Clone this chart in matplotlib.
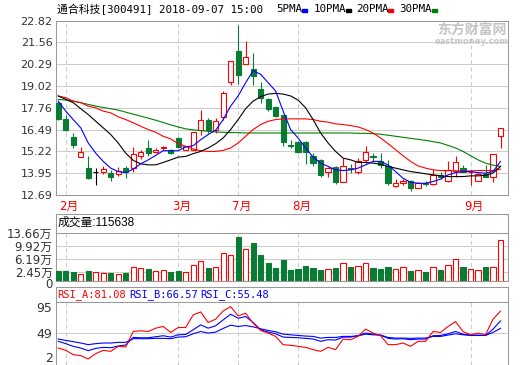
import matplotlib
matplotlib.use("Agg")
import matplotlib.pyplot as plt
from matplotlib.patches import Rectangle
from matplotlib.transforms import ScaledTranslation
import numpy as np

W, H = 520, 365

# daily candles, 2018-01-31 .. 2018-09-07 (trading suspended Mar..Jul)
opens = [18.01, 17.13, 16.06, 14.89, 14.27, 14.01, 14.01, 13.94, 13.92, 14.27,
         14.25, 14.93, 15.44, 15.18, 15.40, 15.32, 16.02, 15.32, 15.30, 16.49,
         17.03, 16.49, 17.21, 19.25, 21.05, 20.27, 20.03, 18.86, 18.24, 17.81,
         17.36, 15.57, 15.79, 15.79, 14.97, 14.73, 14.00, 14.33, 13.47, 14.23,
         14.00, 14.73, 14.93, 14.64, 14.35, 13.22, 13.41, 13.49, 13.08, 13.39,
         13.33, 13.88, 13.53, 14.11, 14.25, 14.00, 13.53, 13.90, 13.72, 16.10]
highs = [18.14, 17.33, 16.29, 15.46, 14.97, 14.27, 14.38, 14.15, 14.33, 14.38,
         15.46, 15.32, 15.90, 15.40, 15.55, 15.36, 16.05, 15.55, 16.35, 17.62,
         17.15, 17.15, 18.73, 20.49, 22.54, 21.63, 20.91, 19.27, 18.30, 17.85,
         17.36, 15.90, 15.85, 15.85, 15.12, 14.80, 14.30, 14.38, 14.83, 14.48,
         14.85, 15.51, 15.12, 15.12, 14.70, 13.60, 13.60, 13.57, 13.47, 13.49,
         14.19, 14.00, 14.64, 14.93, 14.44, 14.15, 13.96, 14.44, 15.09, 16.60]
lows = [17.05, 16.42, 15.40, 14.89, 13.62, 13.27, 13.90, 13.53, 13.78, 13.66,
        14.00, 14.77, 14.97, 15.12, 15.32, 15.05, 15.45, 15.30, 15.28, 16.20,
        16.29, 16.29, 17.07, 19.08, 19.12, 20.27, 19.10, 18.05, 17.55, 17.20,
        15.51, 15.42, 15.12, 14.50, 14.40, 13.76, 13.76, 13.30, 13.43, 13.96,
        13.92, 14.54, 14.64, 14.25, 13.27, 13.18, 13.27, 12.94, 13.08, 13.22,
        13.27, 13.61, 13.47, 13.72, 14.01, 13.27, 13.53, 13.72, 13.47, 15.42]
closes = [17.11, 16.45, 15.57, 15.18, 13.70, 14.01, 14.19, 13.76, 14.07, 14.05,
          15.07, 15.18, 15.12, 15.32, 15.48, 15.10, 15.49, 15.51, 16.33, 17.07,
          16.49, 16.96, 18.63, 20.49, 19.66, 20.68, 19.60, 18.32, 17.66, 17.27,
          15.75, 15.55, 15.18, 15.18, 14.54, 13.86, 14.25, 13.47, 14.35, 14.19,
          14.66, 15.20, 14.87, 14.44, 13.37, 13.39, 13.49, 13.08, 13.37, 13.35,
          13.86, 13.76, 14.15, 14.58, 14.05, 14.03, 13.92, 13.72, 15.09, 16.60]

ma5 = [18.14, 17.56, 17.07, 16.59, 15.71, 15.12, 14.64, 14.25, 14.05, 13.99,
       14.19, 14.50, 14.73, 14.99, 15.26, 15.26, 15.26, 15.48, 15.55, 15.90,
       16.20, 16.45, 17.07, 17.85, 18.44, 19.21, 19.90, 19.70, 19.21, 18.73,
       17.56, 16.49, 16.00, 15.42, 14.89, 14.54, 14.35, 14.15, 14.11, 14.15,
       14.25, 14.44, 14.64, 14.64, 14.44, 14.05, 13.66, 13.43, 13.37, 13.37,
       13.47, 13.61, 13.86, 13.99, 14.05, 14.05, 13.99, 13.96, 14.05, 14.64]
ma10 = [18.44, 18.24, 18.05, 17.70, 17.36, 16.97, 16.59, 16.20, 15.71, 15.12,
        14.70, 14.50, 14.44, 14.44, 14.58, 14.73, 14.89, 14.93, 15.09, 15.22,
        15.42, 15.67, 16.00, 16.49, 17.07, 17.70, 18.14, 18.40, 18.55, 18.59,
        18.55, 18.44, 18.20, 17.75, 17.07, 16.29, 15.71, 15.22, 14.83, 14.73,
        14.58, 14.58, 14.54, 14.48, 14.35, 14.25, 14.15, 14.05, 13.99, 13.92,
        13.86, 13.80, 13.76, 13.76, 13.76, 13.80, 13.80, 13.84, 13.96, 14.35]
ma20 = [18.44, 18.34, 18.14, 18.05, 17.85, 17.75, 17.56, 17.46, 17.23, 17.07,
        16.88, 16.68, 16.49, 16.33, 16.10, 15.95, 15.67, 15.51, 15.36, 15.26,
        15.22, 15.22, 15.28, 15.42, 15.71, 16.10, 16.49, 16.78, 16.97, 17.07,
        17.11, 17.11, 17.11, 17.11, 17.07, 16.97, 16.92, 16.82, 16.78, 16.72,
        16.64, 16.49, 16.29, 16.00, 15.67, 15.32, 14.97, 14.64, 14.38, 14.25,
        14.15, 14.11, 14.11, 14.09, 14.09, 14.09, 14.11, 14.11, 14.11, 14.19]
ma30 = [18.24, 18.20, 18.14, 18.05, 17.95, 17.85, 17.77, 17.70, 17.62, 17.50,
        17.38, 17.27, 17.15, 17.03, 16.90, 16.76, 16.64, 16.53, 16.47, 16.43,
        16.39, 16.35, 16.33, 16.31, 16.31, 16.29, 16.29, 16.29, 16.29, 16.29,
        16.29, 16.29, 16.29, 16.29, 16.29, 16.29, 16.29, 16.29, 16.29, 16.29,
        16.27, 16.27, 16.25, 16.22, 16.16, 16.10, 16.04, 15.98, 15.92, 15.86,
        15.79, 15.71, 15.57, 15.42, 15.22, 14.97, 14.73, 14.54, 14.42, 14.35]

# volume in 万 (10k)
volumes = [2.75, 2.75, 2.47, 2.00, 2.66, 2.37, 2.09, 2.18, 1.80, 2.18,
           3.80, 3.50, 3.32, 2.66, 2.94, 2.47, 2.75, 2.37, 4.36, 5.50,
           3.70, 3.89, 7.78, 7.20, 12.50, 8.90, 10.60, 7.30, 5.00, 3.60,
           5.90, 3.04, 3.32, 4.17, 3.60, 3.04, 3.32, 3.60, 4.93, 3.89,
           4.17, 4.93, 3.60, 3.32, 3.89, 3.23, 3.80, 2.75, 2.94, 2.47,
           3.80, 3.04, 4.36, 6.07, 3.89, 3.23, 2.94, 3.89, 3.89, 11.5638]

rsi_a = [26.4, 23.0, 16.6, 15.1, 10.2, 18.1, 23.0, 21.5, 28.9, 27.9,
         50.9, 51.9, 50.9, 55.8, 58.3, 49.5, 56.8, 56.8, 75.4, 79.9,
         64.2, 69.1, 81.3, 87.7, 74.0, 77.9, 63.2, 52.4, 48.5, 43.6,
         31.4, 30.4, 28.9, 27.4, 24.0, 21.5, 27.4, 24.0, 39.7, 38.7,
         43.6, 54.4, 48.5, 44.6, 31.4, 31.4, 33.8, 28.9, 36.3, 36.3,
         50.9, 49.5, 58.3, 65.6, 50.9, 46.0, 48.5, 46.0, 69.1, 81.08]
rsi_b = [36.3, 32.9, 28.9, 26.4, 22.5, 25.9, 27.4, 26.9, 29.4, 30.9,
         42.1, 41.6, 41.6, 43.1, 44.6, 42.6, 46.0, 46.5, 53.4, 60.7,
         55.8, 59.3, 68.1, 76.4, 70.5, 73.0, 64.2, 53.4, 50.0, 47.5,
         42.6, 42.1, 41.6, 40.7, 39.7, 36.3, 38.7, 38.2, 42.6, 42.6,
         44.6, 48.5, 47.0, 45.5, 40.7, 39.7, 40.2, 38.7, 39.7, 39.7,
         44.6, 45.0, 47.5, 50.9, 47.0, 45.5, 45.5, 45.0, 54.4, 66.57]
rsi_c = [39.7, 37.7, 35.8, 33.8, 31.4, 32.9, 33.8, 33.8, 34.8, 34.8,
         40.2, 40.2, 40.2, 40.7, 40.7, 40.2, 42.6, 43.1, 47.5, 50.9,
         48.5, 50.0, 55.4, 60.2, 58.3, 59.7, 57.8, 54.9, 52.4, 50.5,
         47.0, 46.0, 45.0, 44.1, 43.6, 41.1, 42.1, 42.1, 43.6, 43.6,
         44.6, 47.0, 46.0, 45.5, 42.1, 41.1, 41.1, 40.7, 41.1, 41.1,
         43.6, 43.6, 45.5, 47.5, 46.0, 45.0, 45.0, 45.0, 49.5, 55.48]

month_names = ["2月", "3月", "7月", "8月", "9月"]
month_starts = [1, 16, 24, 32, 55]
price_ticks = [12.69, 13.95, 15.22, 16.49, 17.76, 19.02, 20.29, 21.56, 22.82]
vol_ticks = [0, 2.45, 6.19, 9.92, 13.66]
rsi_ticks = [2, 49, 95]

RED = "#ff0000"
GREEN = "#0a7b35"
GRID = "#cccccc"
BORDER = "#999999"
TXT = "#333333"
SANS = ["DejaVu Sans", "Noto Sans CJK SC"]
MONO = ["DejaVu Sans Mono", "Noto Sans CJK SC"]


def box(x0, y0, x1, y1):
    return [x0 / W, 1 - y1 / H, (x1 - x0) / W, (y1 - y0) / H]


def frame(ax):
    for s in ax.spines.values():
        s.set_color(BORDER)
        s.set_linewidth(0.75)
    ax.set_xticks([])
    ax.set_xlim(-0.3, 60)


def panel(ax):
    frame(ax)
    ax.tick_params(length=0, pad=2.5, labelcolor=TXT)
    for m in month_starts:
        ax.axvline(m, color=GRID, lw=0.75, ls=(0, (4, 3)), zorder=0)


def title_box(rect):
    t = fig.add_axes(rect)
    frame(t)
    t.set_yticks([])
    return t


def nudge(label, dy_px):
    label.set_transform(label.get_transform() + ScaledTranslation(0, dy_px / 100, fig.dpi_scale_trans))


fig = plt.figure(figsize=(W / 100, H / 100), dpi=100)
x = np.arange(len(closes))
o = np.array(opens)
c = np.array(closes)
cols = [RED if cc > oo else GREEN if cc < oo else "black" for oo, cc in zip(o, c)]
faces = ["white" if col == RED else col for col in cols]

# ---- price panel
ax = fig.add_axes(box(56, 20.5, 508, 195))
panel(ax)
ax.set_ylim(price_ticks[0], price_ticks[-1])
ax.set_yticks(price_ticks)
ax.set_yticklabels([f"{t:.2f}" for t in price_ticks], fontsize=8, family=SANS)
for t in price_ticks[1:-1]:
    ax.axhline(t, color=GRID, lw=0.75, zorder=0)
ax.vlines(x, lows, highs, colors=cols, lw=0.8, zorder=2)
ax.bar(x, c - o, bottom=o, width=0.7, color=faces, edgecolor=cols, linewidth=0.8, zorder=3)
ax.plot(x, ma30, color="#008000", lw=0.8, zorder=4)
ax.plot(x, ma20, color=RED, lw=0.8, zorder=4)
ax.plot(x, ma10, color="black", lw=0.8, zorder=4)
ax.plot(x, ma5, color="#0000ff", lw=0.8, zorder=4)
for m, name in zip(month_starts, month_names):
    ax.text(m + 0.45, -0.068, name, transform=ax.get_xaxis_transform(),
            ha="center", va="center", color=RED, fontsize=8.5, family=SANS)

# ---- volume panel
title_box(box(56, 214, 508, 232.7))
fig.text(58 / W, 1 - 223 / H, f"成交量:{round(volumes[-1] * 10000)}",
         fontsize=8.5, family=["Liberation Sans", "Noto Sans CJK SC"], va="center")
av = fig.add_axes(box(56, 232.7, 508, 280.7))
panel(av)
av.set_ylim(0, vol_ticks[-1])
av.set_yticks(vol_ticks)
av.set_yticklabels(["0"] + [f"{t:.2f}万" for t in vol_ticks[1:]], fontsize=8.5, family=SANS)
vlabs = av.get_yticklabels()
nudge(vlabs[0], -2.5)
nudge(vlabs[1], 0.5)
for t in vol_ticks[1:-1]:
    av.axhline(t, color=GRID, lw=0.75, zorder=0)
vcols = [GREEN if cc < oo else RED for oo, cc in zip(o, c)]
vfaces = ["white" if col == RED else col for col in vcols]
av.bar(x, volumes, width=0.7, color=vfaces, edgecolor=vcols, linewidth=0.8, zorder=3)

# ---- RSI panel
title_box(box(56, 287.3, 508, 301.7))
for px, lab, val, col in [(57, "RSI_A", rsi_a[-1], RED), (129, "RSI_B", rsi_b[-1], "#0000ff"),
                          (200.5, "RSI_C", rsi_c[-1], "#0000ff")]:
    fig.text(px / W, 1 - 294.5 / H, f"{lab}:{val:.2f}", color=col, fontsize=7.5,
             family=MONO, va="center")
ar = fig.add_axes(box(56, 301.7, 508, 364.5))
panel(ar)
ar.set_ylim(rsi_ticks[0], rsi_ticks[-1])
ar.set_yticks(rsi_ticks)
ar.set_yticklabels([str(t) for t in rsi_ticks], fontsize=9, family=SANS)
labs = ar.get_yticklabels()
labs[0].set_va("bottom")
labs[-1].set_va("top")
ar.axhline(49, color=GRID, lw=0.75, zorder=0)
ar.plot(x, rsi_c, color="#0000ff", lw=0.8)
ar.plot(x, rsi_b, color="#0000ff", lw=0.8)
ar.plot(x, rsi_a, color=RED, lw=0.8)

# ---- header, legend, watermark
fig.text(57 / W, 1 - 9 / H, "通合科技[300491] 2018-09-07 15:00", fontsize=7.8,
         family=MONO, va="center")
for px, lab, mx, col in [(276, "5PMA", 301.5, "#0000ff"), (314, "10PMA", 345.5, "black"),
                         (356, "20PMA", 388, RED), (399, "30PMA", 431.5, "#008000")]:
    fig.text(px / W, 1 - 9 / H, lab, fontsize=7.8, family=MONO, va="center")
    fig.patches.append(Rectangle((mx / W, 1 - 12.3 / H), 5 / W, 3 / H,
                                 transform=fig.transFigure, color=col))
fig.text(472 / W, 1 - 29.5 / H, "东方财富网", fontsize=10, color="#c4c4c4",
         weight="bold", family=SANS, ha="center", va="center")
fig.text(472 / W, 1 - 41 / H, "eastmoney.com", fontsize=6, color="#c8c8c8",
         weight="bold", family=SANS, ha="center", va="center")

fig.savefig("out.png", dpi=100)
